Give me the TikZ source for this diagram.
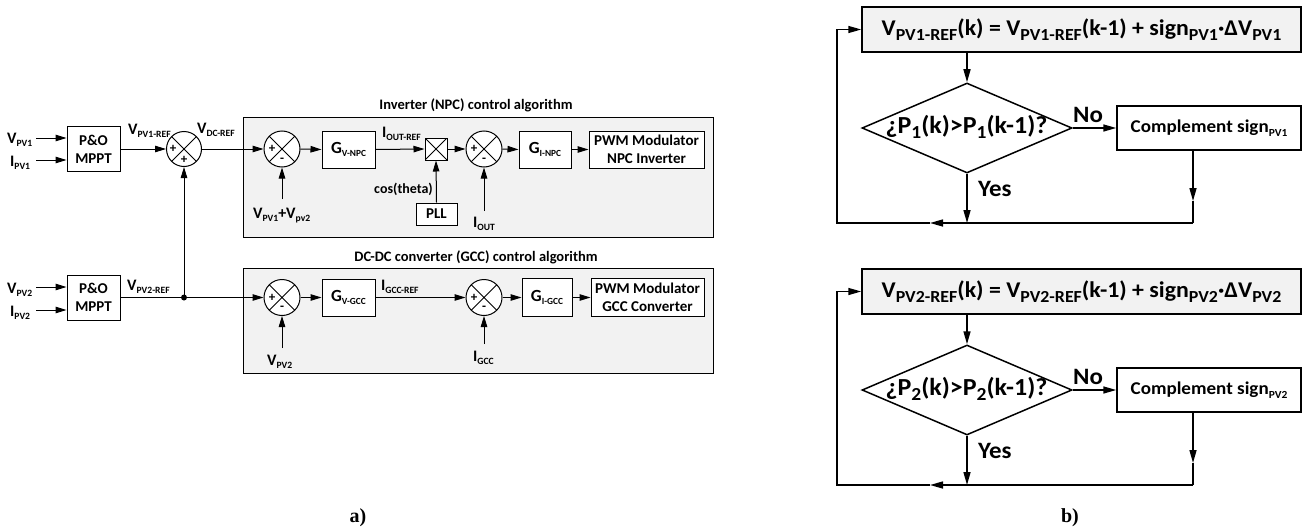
\documentclass[tikz,border=0pt]{standalone}
\usepackage{fontspec}
\setmainfont{Carlito}
\newfontfamily\serifb{Liberation Serif}
\newfontfamily\wcal[FakeStretch=1.06]{Carlito}
\usetikzlibrary{arrows.meta,shapes.geometric,calc}
\definecolor{bg}{RGB}{242,242,242}
\makeatletter
\newcommand\sbx[2][0.6]{\raisebox{-0.2em}{\fontsize{\fpeval{#1*\f@size}}{1}\selectfont #2}}
\makeatother
\newcommand\fs[2]{\fontsize{#1}{#2}\selectfont}
\begin{document}
\begin{tikzpicture}[x=1pt,y=-1pt,
 arr/.style={-{Triangle[length=11pt,width=6.5pt]}},
 lw/.style={line width=1pt},
 blk/.style={draw, line width=1pt, fill=white, inner sep=0pt, align=center, font=\fs{15}{18}\bfseries},
 lab/.style={inner sep=0pt, font=\fs{16}{19}\bfseries},
 xpic/.style={path picture={\draw[line width=0.8pt] (path picture bounding box.north west) -- (path picture bounding box.south east) (path picture bounding box.south west) -- (path picture bounding box.north east);}},
 sumn/.style={circle, draw, line width=1pt, fill=white, minimum size=36pt, inner sep=0pt, xpic},
 sgn/.style={inner sep=0pt, font=\fs{13}{15}\bfseries},
 frame/.style={draw, line width=1pt, fill=bg},
 ttl/.style={inner sep=0pt, font=\fs{14.5}{17}\bfseries, anchor=base},
 fbox/.style={draw, line width=1.5pt, inner sep=0pt},
 flw/.style={line width=1.5pt},
 farr/.style={-{Triangle[length=13pt,width=7pt]}},
 flab/.style={inner sep=0pt, font=\wcal\fs{23.5}{27}\bfseries, anchor=base west},
]
\useasboundingbox (0,0) rectangle (1303,527);
% ---------- frames ----------
\node[frame, minimum width=470pt, minimum height=120pt] (fr1) at (478,177) {};
\node[frame, minimum width=470pt, minimum height=105pt] (fr2) at (478,320.5) {};
\node[ttl] (t1) at (476,109) {Inverter (NPC) control algorithm};
\node[ttl] (t2) at (476,261) {DC-DC converter (GCC) control algorithm};
% ---------- MPPT blocks ----------
\node[blk, minimum width=53pt, minimum height=45pt] (m1) at (93.5,149) {P\&O\\MPPT};
\node[blk, minimum width=53pt, minimum height=45pt] (m2) at (93.5,297.5) {P\&O\\MPPT};
\node[lab, anchor=base west] (vp1) at (7,143) {V\sbx{PV1}};
\node[lab, anchor=base west] (ip1) at (10,166) {I\sbx{PV1}};
\node[lab, anchor=base west] (vp2) at (7,293) {V\sbx{PV2}};
\node[lab, anchor=base west] (ip2) at (10,316) {I\sbx{PV2}};
\coordinate (a1) at (36,138);
\coordinate (a2) at (36,160);
\coordinate (a3) at (36,287);
\coordinate (a4) at (36,310);
\draw[lw,arr] (a1) -- (a1 -| m1.west);
\draw[lw,arr] (a2) -- (a2 -| m1.west);
\draw[lw,arr] (a3) -- (a3 -| m2.west);
\draw[lw,arr] (a4) -- (a4 -| m2.west);
% ---------- sum 1 ----------
\node[sumn, minimum size=35pt] (s1) at (184,149) {};
\node[sgn] at ([xshift=-11pt]s1.center) {+};
\node[sgn] at ([yshift=-11pt]s1.center) {+};
\draw[lw,arr] (m1.east) -- (s1.west);
\node[lab, anchor=base west] (lv1) at (128,134) {V\sbx{PV1-REF}};
\node[lab, anchor=base west] (ldc) at (197,133) {V\sbx{DC-REF}};
\coordinate (j) at (184,297.5);
\fill (j) circle (3pt);
\draw[lw,arr] (j) -- (s1.south);
\draw[lw] (m2.east) -- (j);
\node[lab, anchor=base west] (lv2) at (127,290) {V\sbx{PV2-REF}};
% ---------- inverter row ----------
\node[sumn] (s2) at (282,149) {};
\node[sgn] at ([xshift=-10pt]s2.center) {+};
\node[sgn] at ([yshift=-11pt]s2.center) {-};
\draw[lw,arr] (s1.east) -- (s2.west);
\coordinate (b2) at (282,199);
\draw[lw,arr] (b2) -- (s2.south);
\node[lab, anchor=base west] (lvs) at (253,218) {V\sbx{PV1}+V\sbx{pv2}};
\node[blk, minimum width=53pt, minimum height=37pt, font=\fs{17}{20}\bfseries] (gv1) at (348.5,149.5) {G\sbx[0.55]{V-NPC}};
\draw[lw,arr] (s2.east) -- (gv1.west);
\node[draw, lw, fill=white, minimum size=22pt, inner sep=0pt, xpic] (mx) at (436,149) {};
\draw[lw,arr] (gv1.east) -- (mx.west);
\node[lab, anchor=base west] (lio) at (382,137) {I\sbx{OUT-REF}};
\node[blk, minimum width=41pt, minimum height=22pt] (pll) at (436.5,214) {PLL};
\draw[lw,arr] (pll.north) -- (mx.south);
\node[lab, font=\fs{14}{17}\bfseries, anchor=base east] (lcos) at (433,193) {cos(theta)};
\node[sumn] (s3) at (484,149) {};
\node[sgn] at ([xshift=-10pt]s3.center) {+};
\node[sgn] at ([yshift=-11pt]s3.center) {-};
\draw[lw,arr] (mx.east) -- (s3.west);
\coordinate (b3) at (484,211);
\draw[lw,arr] (b3) -- (s3.south);
\node[lab, anchor=base west] (liout) at (473,227) {I\sbx{OUT}};
\node[blk, minimum width=52pt, minimum height=37pt, font=\fs{17}{20}\bfseries] (gi1) at (545,149.5) {G\sbx[0.55]{I-NPC}};
\draw[lw,arr] (s3.east) -- (gi1.west);
\node[blk, minimum width=115pt, minimum height=37pt] (pw1) at (646.5,149.5) {PWM Modulator\\NPC Inverter};
\draw[lw,arr] (gi1.east) -- (pw1.west);
% ---------- converter row ----------
\node[sumn] (s4) at (282,297.5) {};
\node[sgn] at ([xshift=-10pt]s4.center) {+};
\node[sgn] at ([yshift=-11pt]s4.center) {-};
\draw[lw,arr] (j) -- (s4.west);
\coordinate (b4) at (282,348);
\draw[lw,arr] (b4) -- (s4.south);
\node[lab, anchor=base west] (lvp2) at (267,365) {V\sbx{PV2}};
\node[blk, minimum width=53pt, minimum height=37pt, font=\fs{17}{20}\bfseries] (gv2) at (348.5,297.5) {G\sbx[0.55]{V-GCC}};
\draw[lw,arr] (s4.east) -- (gv2.west);
\node[lab, anchor=base west] (lig) at (381,290) {I\sbx{GCC-REF}};
\node[sumn] (s5) at (484,297.5) {};
\node[sgn] at ([xshift=-10pt]s5.center) {+};
\node[sgn] at ([yshift=-11pt]s5.center) {-};
\draw[lw,arr] (gv2.east) -- (s5.west);
\coordinate (b5) at (484,344);
\draw[lw,arr] (b5) -- (s5.south);
\node[lab, anchor=base west] (ligcc) at (473,361) {I\sbx{GCC}};
\node[blk, minimum width=50pt, minimum height=38pt, font=\fs{17}{20}\bfseries] (gi2) at (547,297.5) {G\sbx[0.55]{I-GCC}};
\draw[lw,arr] (s5.east) -- (gi2.west);
\node[blk, minimum width=113pt, minimum height=38pt] (pw2) at (647.5,297.5) {PWM Modulator\\GCC Converter};
\draw[lw,arr] (gi2.east) -- (pw2.west);
% ---------- flowcharts ----------
\foreach \dy/\idx in {0/1,262/2}{
  \node[fbox, fill=bg, minimum width=439pt, minimum height=45pt, font=\wcal\fs{22.5}{26}\bfseries] (top\idx) at (1081.5,29.5+\dy) {V\sbx[0.75]{PV\idx-REF}(k) = V\sbx[0.75]{PV\idx-REF}(k-1) + sign\sbx[0.75]{PV\idx}·ΔV\sbx[0.75]{PV\idx}};
  \node[diamond, draw, flw, minimum width=210pt, minimum height=90pt, inner sep=0pt, aspect=2.33] (d\idx) at (967,128+\dy) {};
  \node[inner sep=0pt, font=\wcal\fs{24.5}{28}\bfseries] (dt\idx) at (966.5,127+\dy) {¿P\sbx[0.75]{\idx}(k)>P\sbx[0.75]{\idx}(k-1)?};
  \node[fbox, minimum width=184pt, minimum height=44pt, font=\wcal\fs{18}{21}\bfseries] (c\idx) at (1209,128+\dy) {Complement sign\sbx{PV\idx}};
  \draw[flw,farr] (d\idx.north |- top\idx.south) -- (d\idx.north);
  \draw[flw,farr] (d\idx.east) -- (c\idx.west);
  \node[flab] (no\idx) at (1073,122+\dy) {No};
  \node[flab] (yes\idx) at (978,196+\dy) {Yes};
  \coordinate (ca\idx) at ([xshift=-16pt]c\idx.south);
  \coordinate (cm\idx) at (1193,201+\dy);
  \coordinate (cb\idx) at (1193,223+\dy);
  \coordinate (mm\idx) at (930,223+\dy);
  \coordinate (ll\idx) at (837,223+\dy);
  \draw[flw,farr] (ca\idx) -- (cm\idx);
  \draw[flw] (cm\idx) -- (cb\idx);
  \draw[flw,farr] (cb\idx) -- (mm\idx);
  \draw[flw,farr] (mm\idx) -- (ll\idx) |- (top\idx.west);
  \draw[flw,farr] (d\idx.south) -- (d\idx.south |- ll\idx);
}
% ---------- captions ----------
\node[font=\serifb\fs{20}{24}\bfseries, anchor=base, inner sep=0pt] (la) at (358,522) {a)};
\node[font=\serifb\fs{20}{24}\bfseries, anchor=base, inner sep=0pt] (lb) at (1070,522) {b)};
\end{tikzpicture}
\end{document}
